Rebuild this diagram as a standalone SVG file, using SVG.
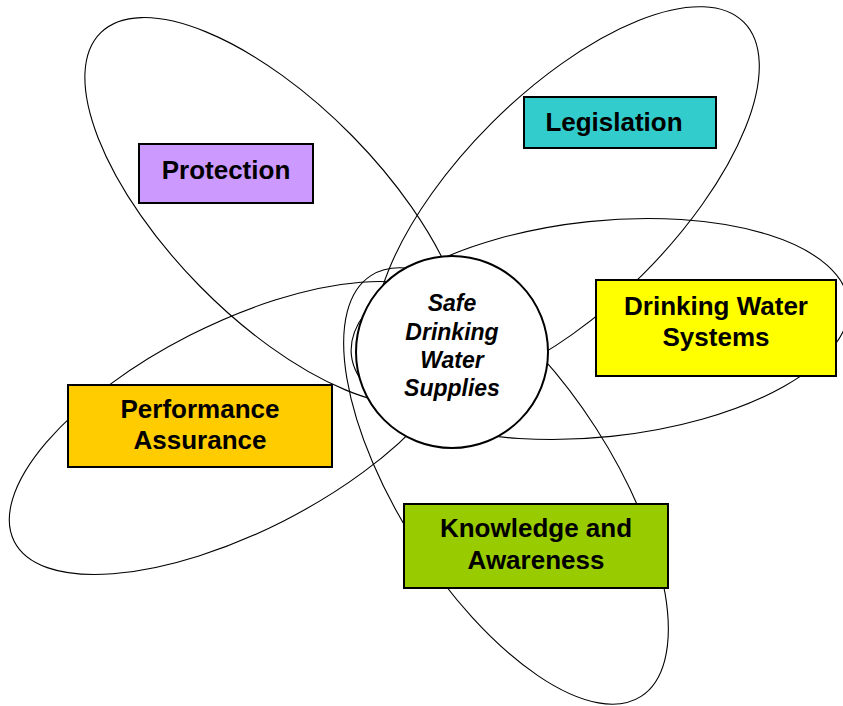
<svg xmlns="http://www.w3.org/2000/svg" width="843" height="706" viewBox="0 0 843 706">
  <style>
    .petal { fill: none; stroke: #000; stroke-width: 1.1; }
    .box { stroke: #000; stroke-width: 2; }
    .lbl { font-family: "Liberation Sans", Arial, sans-serif; font-weight: bold; font-size: 26px; fill: #000; text-anchor: middle; }
    .hub { font-family: "Liberation Sans", Arial, sans-serif; font-weight: bold; font-style: italic; font-size: 23px; fill: #000; text-anchor: middle; }
  </style>
  <rect x="0" y="0" width="843" height="706" fill="#fff"/>
  <g id="petals">
    <ellipse class="petal" cx="276" cy="211" rx="250" ry="107" transform="rotate(45.5 276 211)"/>
    <ellipse class="petal" cx="567" cy="199" rx="250" ry="107" transform="rotate(-45 567 199)"/>
    <ellipse class="petal" cx="600" cy="329" rx="250" ry="108" transform="rotate(-6 600 329)"/>
    <ellipse class="petal" cx="506" cy="486" rx="250" ry="107" transform="rotate(57.3 506 486)"/>
    <ellipse class="petal" cx="237" cy="428" rx="250" ry="104" transform="rotate(-27 237 428)"/>
  </g>
  <g id="protection">
    <rect class="box" x="139" y="144" width="174" height="59" fill="#CC99FF"/>
    <text class="lbl" x="226" y="179">Protection</text>
  </g>
  <g id="legislation">
    <rect class="box" x="524" y="97" width="192" height="51" fill="#33CCCC"/>
    <text class="lbl" x="614" y="131">Legislation</text>
  </g>
  <g id="drinking-water-systems">
    <rect class="box" x="596" y="280" width="240" height="96" fill="#FFFF00"/>
    <text class="lbl" x="716" y="315">Drinking Water</text>
    <text class="lbl" x="716" y="346">Systems</text>
  </g>
  <g id="performance-assurance">
    <rect class="box" x="68" y="385" width="264" height="82" fill="#FFCC00"/>
    <text class="lbl" x="200" y="418">Performance</text>
    <text class="lbl" x="200" y="449">Assurance</text>
  </g>
  <g id="knowledge-awareness">
    <rect class="box" x="404" y="504" width="264" height="84" fill="#99CC00"/>
    <text class="lbl" x="536" y="537">Knowledge and</text>
    <text class="lbl" x="536" y="569">Awareness</text>
  </g>
  <g id="safe-drinking-water-supplies">
    <circle cx="452" cy="352" r="96" fill="#fff" stroke="#000" stroke-width="2"/>
    <text class="hub" x="452" y="311">Safe</text>
    <text class="hub" x="452" y="340">Drinking</text>
    <text class="hub" x="452" y="368">Water</text>
    <text class="hub" x="452" y="396">Supplies</text>
  </g>
</svg>
